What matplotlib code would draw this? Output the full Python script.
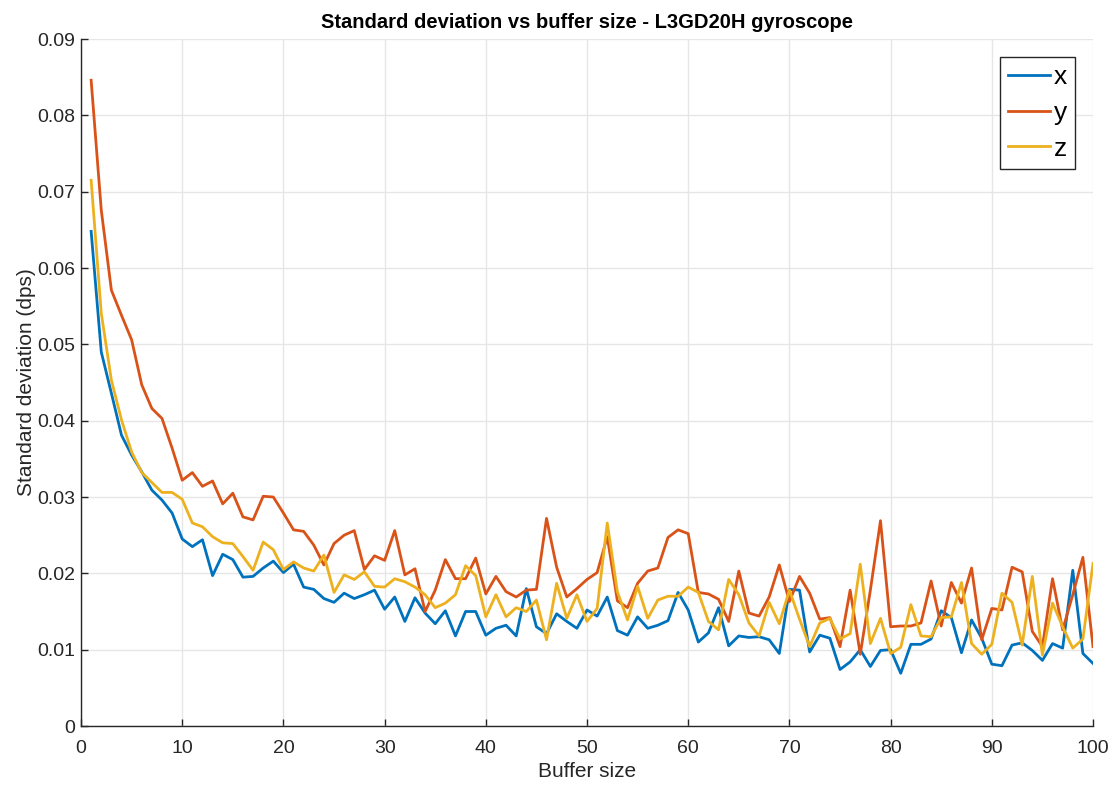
from matplotlib import pyplot as plt
from matplotlib import ticker
import numpy as np

plt.rcParams['font.family'] = ['Liberation Sans', 'DejaVu Sans']

buffer_size = np.arange(1, 101)

std_x = [0.0648, 0.0490, 0.0436, 0.0381, 0.0355, 0.0333, 0.0309, 0.0296, 0.0279, 0.0245,
         0.0235, 0.0244, 0.0197, 0.0225, 0.0218, 0.0195, 0.0196, 0.0207, 0.0216, 0.0201,
         0.0212, 0.0182, 0.0179, 0.0167, 0.0162, 0.0174, 0.0167, 0.0172, 0.0178, 0.0153,
         0.0169, 0.0137, 0.0168, 0.0148, 0.0134, 0.0151, 0.0118, 0.0150, 0.0150, 0.0119,
         0.0128, 0.0132, 0.0118, 0.0180, 0.0130, 0.0121, 0.0147, 0.0137, 0.0128, 0.0152,
         0.0144, 0.0169, 0.0125, 0.0119, 0.0143, 0.0128, 0.0132, 0.0138, 0.0175, 0.0152,
         0.0110, 0.0122, 0.0155, 0.0105, 0.0118, 0.0116, 0.0117, 0.0113, 0.0095, 0.0179,
         0.0178, 0.0097, 0.0119, 0.0115, 0.0074, 0.0084, 0.0100, 0.0078, 0.0099, 0.0100,
         0.0069, 0.0107, 0.0107, 0.0114, 0.0151, 0.0142, 0.0096, 0.0139, 0.0115, 0.0081,
         0.0079, 0.0106, 0.0109, 0.0099, 0.0086, 0.0108, 0.0102, 0.0204, 0.0095, 0.0082]

std_y = [0.0846, 0.0676, 0.0571, 0.0538, 0.0506, 0.0447, 0.0416, 0.0403, 0.0364, 0.0322,
         0.0332, 0.0314, 0.0321, 0.0291, 0.0305, 0.0274, 0.0270, 0.0301, 0.0300, 0.0279,
         0.0257, 0.0255, 0.0237, 0.0211, 0.0239, 0.0250, 0.0256, 0.0205, 0.0223, 0.0217,
         0.0256, 0.0198, 0.0206, 0.0150, 0.0178, 0.0218, 0.0193, 0.0193, 0.0220, 0.0173,
         0.0196, 0.0176, 0.0169, 0.0178, 0.0179, 0.0272, 0.0208, 0.0169, 0.0180, 0.0192,
         0.0201, 0.0248, 0.0164, 0.0155, 0.0187, 0.0203, 0.0207, 0.0247, 0.0257, 0.0252,
         0.0175, 0.0173, 0.0166, 0.0137, 0.0203, 0.0148, 0.0144, 0.0169, 0.0211, 0.0163,
         0.0196, 0.0174, 0.0140, 0.0142, 0.0104, 0.0178, 0.0094, 0.0178, 0.0269, 0.0130,
         0.0131, 0.0131, 0.0135, 0.0190, 0.0131, 0.0188, 0.0161, 0.0207, 0.0113, 0.0154,
         0.0152, 0.0208, 0.0202, 0.0124, 0.0104, 0.0193, 0.0126, 0.0172, 0.0221, 0.0104]

std_z = [0.0715, 0.0541, 0.0453, 0.0401, 0.0359, 0.0332, 0.0319, 0.0306, 0.0306, 0.0297,
         0.0266, 0.0261, 0.0248, 0.0240, 0.0239, 0.0222, 0.0204, 0.0241, 0.0231, 0.0205,
         0.0215, 0.0207, 0.0203, 0.0224, 0.0175, 0.0198, 0.0192, 0.0202, 0.0183, 0.0182,
         0.0193, 0.0189, 0.0182, 0.0172, 0.0155, 0.0161, 0.0172, 0.0210, 0.0197, 0.0143,
         0.0172, 0.0143, 0.0155, 0.0150, 0.0165, 0.0113, 0.0187, 0.0141, 0.0172, 0.0137,
         0.0154, 0.0266, 0.0176, 0.0139, 0.0183, 0.0141, 0.0165, 0.0170, 0.0170, 0.0182,
         0.0175, 0.0137, 0.0126, 0.0192, 0.0172, 0.0135, 0.0118, 0.0162, 0.0134, 0.0178,
         0.0140, 0.0104, 0.0135, 0.0141, 0.0114, 0.0121, 0.0212, 0.0108, 0.0141, 0.0095,
         0.0103, 0.0159, 0.0118, 0.0117, 0.0142, 0.0143, 0.0188, 0.0108, 0.0094, 0.0107,
         0.0174, 0.0162, 0.0106, 0.0196, 0.0093, 0.0161, 0.0130, 0.0102, 0.0114, 0.0213]

fig = plt.figure(figsize=(11.16, 7.87), dpi=100)
ax = fig.add_axes([0.0726, 0.0775, 0.9068, 0.8729])

ax.plot(buffer_size, std_x, color='#0072BD', linewidth=2, label='x')
ax.plot(buffer_size, std_y, color='#D95319', linewidth=2, label='y')
ax.plot(buffer_size, std_z, color='#EDB120', linewidth=2, label='z')

ax.set_xlim(0, 100)
ax.set_ylim(0, 0.09)
ax.xaxis.set_major_locator(ticker.MultipleLocator(10))
ax.yaxis.set_major_locator(ticker.MultipleLocator(0.01))
ax.yaxis.set_major_formatter(ticker.FuncFormatter(lambda v, pos: f'{v:.2f}'.rstrip('0').rstrip('.') if v else '0'))

# matlab-like axes: no box, inward ticks, light grid
ax.grid(True, color='#e6e6e6', linewidth=1)
ax.set_axisbelow(True)
for side in ['top', 'right']:
    ax.spines[side].set_visible(False)
for side in ['left', 'bottom']:
    ax.spines[side].set_color('#262626')
    ax.spines[side].set_linewidth(1)
ax.tick_params(direction='in', length=5, width=1, colors='#262626', labelsize=14)
ax.tick_params(axis='x', pad=10)
ax.tick_params(axis='y', pad=4)

ax.set_xlabel('Buffer size', fontsize=15, color='#262626', labelpad=4)
ax.set_ylabel('Standard deviation (dps)', fontsize=15, color='#262626', labelpad=1)
ax.set_title('Standard deviation vs buffer size - L3GD20H gyroscope',
             fontsize=14.5, fontweight='bold', color='black', pad=8)

leg = ax.legend(loc='upper right', bbox_to_anchor=(0.9822, 0.9738), borderaxespad=0,
                fontsize=19, fancybox=False, framealpha=1, edgecolor='#262626',
                handlelength=1.6, handletextpad=0.15, borderpad=0.3, labelspacing=0.45)
leg.get_frame().set_linewidth(1)

plt.savefig('out.png', dpi=100)
